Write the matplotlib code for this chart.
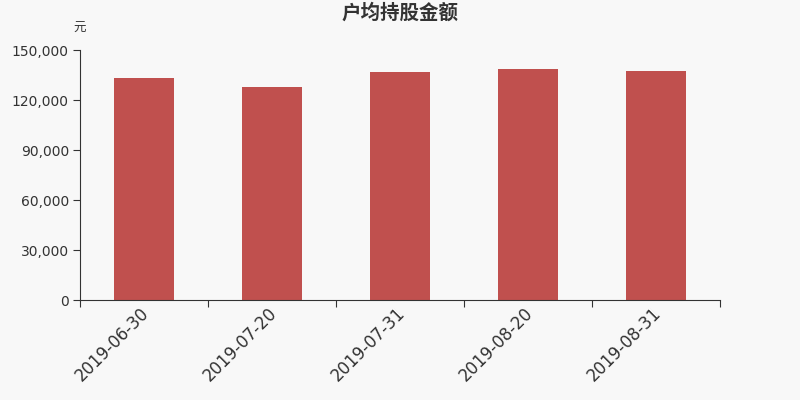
import matplotlib

matplotlib.use("Agg")
import matplotlib.pyplot as plt
from matplotlib.ticker import FuncFormatter

plt.rcParams["font.family"] = ["DejaVu Sans", "Noto Sans CJK SC"]

dates = ["2019-06-30", "2019-07-20", "2019-07-31", "2019-08-20", "2019-08-31"]
amounts = [133500, 127800, 136800, 138400, 137200]
title = "户均持股金额"
unit = "元"

bg = "#f8f8f8"
fig = plt.figure(figsize=(8, 4), dpi=100, facecolor=bg)
ax = fig.add_axes([0.1, 0.25, 0.8, 0.625], facecolor=bg)

x = list(range(len(dates)))
ax.bar(x, amounts, width=0.47, color="#c0504e", zorder=2)

ax.set_xlim(-0.5, len(dates) - 0.5)
ax.set_ylim(0, 150000)
ax.set_yticks(range(0, 150001, 30000))
ax.yaxis.set_major_formatter(FuncFormatter(lambda v, _: f"{int(v):,}"))

# ticks sit on the category boundaries, labels at the centres
ax.set_xticks([i - 0.5 for i in range(len(dates) + 1)])
ax.set_xticklabels([])
ax.set_xticks([i - 0.03 for i in x], minor=True)
ax.set_xticklabels(dates, minor=True, rotation=45, ha="right",
                   rotation_mode="anchor", fontsize=12, color="#333333")
ax.tick_params(axis="x", which="minor", length=0, pad=3)
ax.tick_params(axis="x", which="major", length=5, color="#333333")
ax.tick_params(axis="y", length=5, labelsize=10, colors="#333333", pad=3)

for side in ("top", "right"):
    ax.spines[side].set_visible(False)
for side in ("left", "bottom"):
    ax.spines[side].set_color("#333333")

fig.text(0.5, 0.967, title, ha="center", va="center", fontsize=14,
         fontweight="bold", color="#333333", family=["Noto Sans CJK SC"])
fig.text(0.099, 0.928, unit, ha="center", va="center", fontsize=9,
         color="#333333", family=["Noto Sans CJK SC"])

fig.savefig("out.png", dpi=100, facecolor=bg)
